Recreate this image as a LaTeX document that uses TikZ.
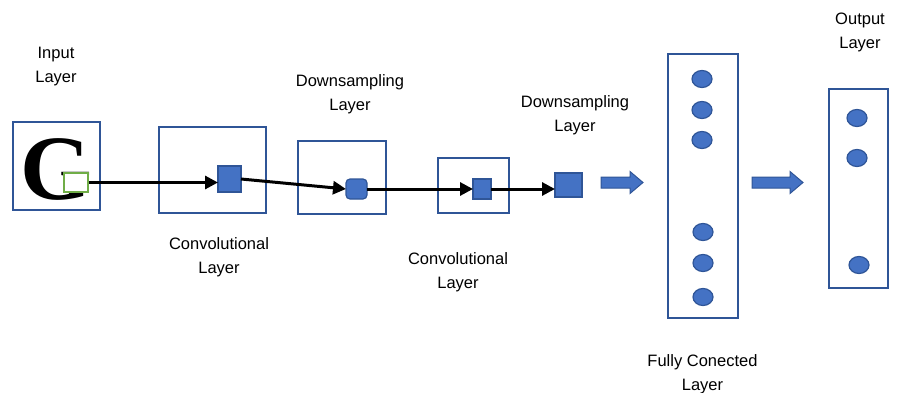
\documentclass[tikz,border=0pt]{standalone}
\usepackage{fontspec}
\setmainfont{Liberation Sans}
\newfontfamily\serifG{Liberation Serif}
\usetikzlibrary{arrows.meta,shapes.geometric}
\definecolor{boxblue}{HTML}{2F5597}
\definecolor{fillblue}{HTML}{4472C4}
\definecolor{gbox}{HTML}{70AD47}
\begin{document}
\begin{tikzpicture}[x=1pt,y=-1pt,
  layerbox/.style 2 args={draw=boxblue,line width=2pt,inner sep=0pt,outer sep=0pt,minimum width=#1,minimum height=#2},
  unit/.style 2 args={draw=boxblue,fill=fillblue,line width=1.2pt,inner sep=0pt,outer sep=0pt,minimum width=#1,minimum height=#2},
  neuron/.style={ellipse,draw=boxblue,fill=fillblue,line width=1.2pt,inner sep=0pt,minimum width=20pt,minimum height=17pt},
  lbl/.style={align=center,anchor=north,inner sep=0pt,font=\fontsize{16.5}{24}\selectfont},
  conn/.style={line width=3pt,-{Triangle[length=13pt,width=13pt]}},
  blockarrow/.style={draw=boxblue,fill=fillblue,line width=1pt,line join=miter}
]
\useasboundingbox (0,0) rectangle (897,393);

% layer boxes
\node[layerbox={87pt}{88pt}] (inbox) at (56.5,166) {};
\node[layerbox={107pt}{86pt}] (conv1) at (212.5,170) {};
\node[layerbox={88pt}{73pt}] (down1) at (342,177.5) {};
\node[layerbox={71pt}{55pt}] (conv2) at (473.5,185.5) {};
\node[layerbox={70pt}{264pt}] (fc) at (703,186) {};
\node[layerbox={59pt}{199pt}] (out) at (858.5,188.5) {};

% input letter
\node[anchor=base,inner sep=0pt,font=\serifG\bfseries\fontsize{92}{92}\selectfont] (letterG) at (56,199) {G};
\node[draw=gbox,fill=white,line width=1.5pt,inner sep=0pt,minimum width=24pt,minimum height=19pt] (green) at (76,182.5) {};

% feature units
\node[unit={23pt}{26pt}] (sq1) at (229.5,179) {};
\node[unit={21pt}{20pt},rounded corners=4pt] (rs) at (356.5,189) {};
\node[unit={18pt}{20pt}] (sq2) at (482,189) {};
\node[unit={27pt}{24pt}] (sq3) at (568.5,185) {};

% connectors
\draw[conn] (green.east) -- (green.east -| sq1.west);
\draw[conn] (sq1.east) -- (rs.west);
\draw[conn] (rs.east) -- (sq2.west);
\draw[conn] (sq2.east) -- (sq2.east -| sq3.west);

% block arrows
\coordinate (ba1) at (601,182.5);
\coordinate (ba2) at (752,182.5);
\draw[blockarrow] (ba1) ++(0,-5.5) -- ++(29,0) -- ++(0,-5.5) -- ++(13,11) -- ++(-13,11) -- ++(0,-5.5) -- ++(-29,0) -- cycle;
\draw[blockarrow] (ba2) ++(0,-5.5) -- ++(38,0) -- ++(0,-5.5) -- ++(13,11) -- ++(-13,11) -- ++(0,-5.5) -- ++(-38,0) -- cycle;

% fully connected neurons
\node[neuron] (f1) at (702,79) {};
\node[neuron] (f2) at (702,110) {};
\node[neuron] (f3) at (702,140) {};
\node[neuron] (f4) at (703,232) {};
\node[neuron] (f5) at (703,263) {};
\node[neuron] (f6) at (703,297) {};

% output neurons
\node[neuron] (o1) at (857,118) {};
\node[neuron] (o2) at (857,158) {};
\node[neuron] (o3) at (859,265) {};

% labels
\node[lbl] (linput) at (56,47) {Input\\Layer};
\node[lbl] (lconv1) at (219,237) {Convolutional\\Layer};
\node[lbl] (ldown1) at (350,74) {Downsampling\\Layer};
\node[lbl] (lconv2) at (458,252) {Convolutional\\Layer};
\node[lbl] (ldown2) at (575,95) {Downsampling\\Layer};
\node[lbl] (lfc) at (702.5,354) {Fully Conected\\Layer};
\node[lbl] (lout) at (860,12.5) {Output\\Layer};
\end{tikzpicture}
\end{document}
